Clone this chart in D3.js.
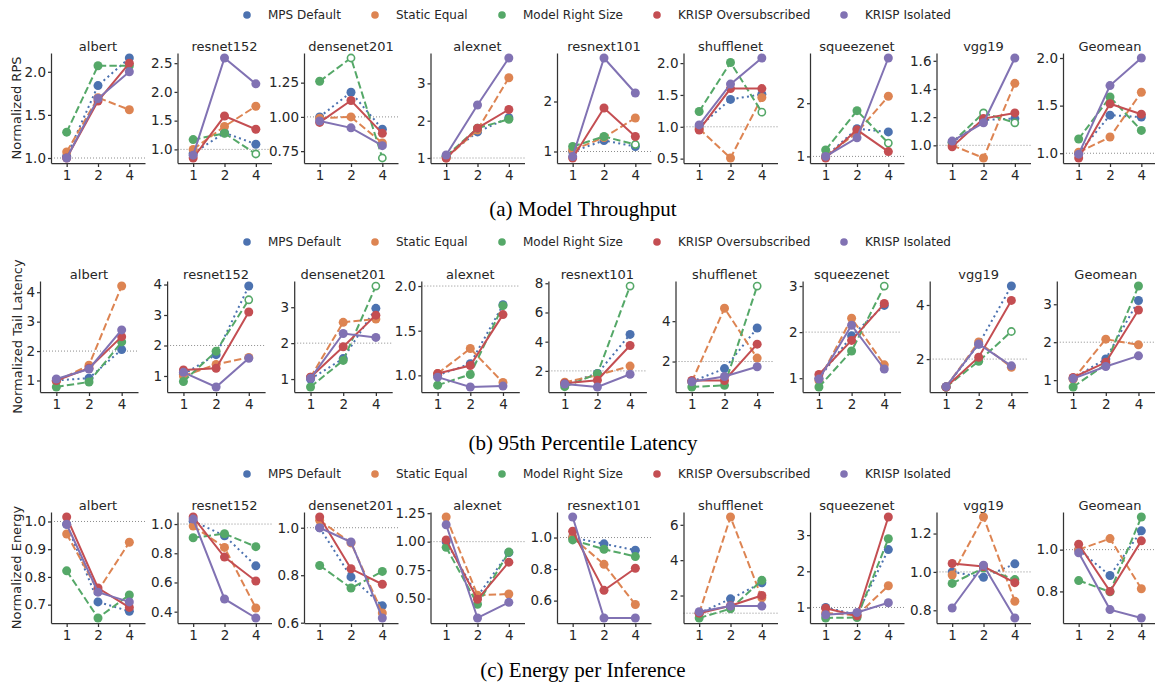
<!DOCTYPE html>
<html><head><meta charset="utf-8">
<script src="https://cdn.jsdelivr.net/npm/d3@7"></script>
<style>body{margin:0;background:#fff}svg{display:block}</style>
</head><body><svg id="c" width="1155" height="685"></svg>
<script>
// ---------- data ----------
const models = ["albert","resnet152","densenet201","alexnet","resnext101","shufflenet","squeezenet","vgg19","Geomean"];
const xLabels = ["1","2","4"];
const seriesNames = ["MPS Default","Static Equal","Model Right Size","KRISP Oversubscribed","KRISP Isolated"];

// (a) Normalized RPS, one [x=1, x=2, x=4] triple per model
const rpsMPS    = [[1.02,1.84,2.16],[0.93,1.29,1.09],[1.00,1.18,0.91],[1.05,1.70,2.08],[1.00,1.22,1.10],[1.00,1.43,1.51],[1.00,1.52,1.46],[1.02,1.18,1.19],[1.00,1.40,1.38]];
const rpsStatic = [[1.07,1.70,1.56],[1.00,1.40,1.75],[0.99,1.00,0.81],[1.00,1.75,3.15],[1.03,1.28,1.67],[0.97,0.51,1.46],[1.00,1.45,2.13],[1.00,0.91,1.44],[1.01,1.17,1.64]];
const rpsRight  = [[1.30,2.07,2.07],[1.17,1.28,0.92],[1.26,1.43,0.70],[1.05,1.80,2.04],[1.10,1.30,1.14],[1.24,2.01,1.23],[1.12,1.86,1.25],[1.02,1.23,1.16],[1.15,1.59,1.24]];
const rpsOver   = [[1.00,1.66,2.10],[0.85,1.58,1.35],[0.96,1.12,0.88],[1.00,1.80,2.30],[0.87,1.87,1.30],[0.95,1.60,1.60],[0.97,1.50,1.09],[0.99,1.19,1.23],[0.95,1.52,1.41]];
const rpsIso    = [[1.00,1.69,2.00],[0.90,2.59,2.14],[0.97,0.92,0.79],[1.08,2.42,3.68],[0.90,2.87,2.17],[1.03,1.67,2.08],[1.00,1.35,2.85],[1.03,1.16,1.62],[0.99,1.71,2.00]];
const rpsHollow = [[],[2],[1,2],[],[2],[2],[2],[1,2],[]];
const rpsTicks  = [["1.0","1.5","2.0"],["1.0","1.5","2.0","2.5"],["0.75","1.00","1.25"],["1","2","3"],["1","2"],["0.5","1.0","1.5","2.0"],["1","2"],["1.0","1.2","1.4","1.6"],["1.0","1.5","2.0"]];

// (b) Normalized tail latency
const latMPS    = [[1.00,1.08,2.05],[1.05,1.70,3.95],[1.00,1.57,2.97],[1.00,1.13,1.79],[1.10,1.82,4.50],[1.00,1.65,3.66],[1.00,1.92,2.58],[0.97,2.55,4.70],[1.05,1.56,3.10]];
const latStatic = [[0.97,1.52,4.21],[1.00,1.38,1.61],[1.05,2.58,2.67],[1.02,1.30,0.92],[1.22,1.70,2.33],[1.00,4.64,2.17],[0.95,2.30,1.29],[0.97,2.63,1.70],[1.02,2.08,1.93]];
const latRight  = [[0.78,0.95,2.31],[0.82,1.81,3.50],[0.78,1.52,3.59],[0.89,1.01,1.78],[0.92,1.80,7.81],[0.74,0.82,5.74],[0.81,1.59,3.00],[0.97,1.92,3.02],[0.82,1.42,3.48]];
const latOver   = [[1.00,1.42,2.49],[1.20,1.25,3.10],[1.05,1.90,2.78],[1.02,1.11,1.68],[1.15,1.36,3.74],[1.06,1.06,2.86],[1.08,1.82,2.62],[0.97,2.07,4.17],[1.07,1.47,2.85]];
const latIso    = [[1.05,1.39,2.72],[1.12,0.64,1.58],[1.02,2.27,2.16],[0.98,0.87,0.88],[1.10,0.90,1.77],[1.00,1.26,1.74],[0.98,2.15,1.20],[0.98,2.56,1.75],[1.04,1.36,1.64]];
const latHollow = [[],[2],[2],[],[2],[2],[2],[2],[]];
const latTicks  = [["1","2","3","4"],["1","2","3","4"],["1","2","3"],["1.0","1.5","2.0"],["2","4","6","8"],["2","4"],["1","2","3"],["2","4"],["1","2","3"]];

// (c) Normalized energy per inference
const enMPS    = [[0.99,0.71,0.676],[1.02,0.92,0.714],[1.00,0.793,0.671],[1.00,0.52,0.905],[1.00,0.96,0.92],[1.00,1.81,2.72],[1.00,0.80,2.60],[1.00,0.972,1.042],[1.00,0.876,1.09]];
const enStatic = [[0.955,0.75,0.925],[0.986,0.84,0.425],[1.031,0.936,0.641],[1.216,0.53,0.54],[1.00,0.83,0.575],[1.00,6.44,1.87],[0.85,0.78,1.60],[0.984,1.286,0.847],[1.00,1.053,0.813]];
const enRight  = [[0.822,0.652,0.735],[0.906,0.934,0.845],[0.841,0.746,0.816],[0.95,0.45,0.908],[0.985,0.926,0.88],[0.73,1.25,2.86],[0.71,0.72,2.90],[0.94,1.02,0.96],[0.852,0.798,1.156]];
const enOver   = [[1.016,0.76,0.69],[1.048,0.774,0.61],[1.045,0.827,0.762],[1.015,0.494,0.82],[1.04,0.665,0.805],[1.00,1.42,2.00],[0.98,0.77,3.50],[1.044,1.028,0.944],[1.026,0.80,1.042]];
const enIso    = [[0.99,0.745,0.71],[1.034,0.487,0.357],[1.00,0.94,0.62],[1.148,0.33,0.467],[1.13,0.49,0.49],[1.08,1.40,1.40],[0.80,0.86,1.13],[0.812,1.035,0.76],[0.985,0.713,0.673]];
const enHollow = [[],[],[],[],[],[],[],[],[]];
const enTicks  = [["0.7","0.8","0.9","1.0"],["0.4","0.6","0.8","1.0"],["0.6","0.8","1.0"],["0.50","0.75","1.00","1.25"],["0.6","0.8","1.0"],["2","4","6"],["1","2","3"],["0.8","1.0","1.2"],["0.8","1.0"]];

const yLabels  = ["Normalized RPS","Normalized Tail Latency","Normalized Energy"];
const captions = ["(a) Model Throughput","(b) 95th Percentile Latency","(c) Energy per Inference"];
const refValues = [1, 2, 1];

// ---------- style / layout ----------
const colors = ["#4C72B0","#DD8452","#55A868","#C44E52","#8172B3"];
const dashes = ["2,3.3","7.4,3.2","7.4,3.2",null,null];
const hollowSeries = 2;
const rowsLayout = [
  {left0:51, step:126.5, width:94, top:53,  bottom:163, legendY:15,  ylabX:16, capY:216},
  {left0:40, step:127.1, width:98, top:281, bottom:392, legendY:242, ylabX:17, capY:450},
  {left0:51, step:126.5, width:94, top:512, bottom:623, legendY:474, ylabX:16, capY:677}
];
const legendX = [247,375,502,657,844];
const FONT = "DejaVu Sans";
const TXT = "#262626";

const metrics = [
  {series:[rpsMPS,rpsStatic,rpsRight,rpsOver,rpsIso], hollow:rpsHollow, ticks:rpsTicks},
  {series:[latMPS,latStatic,latRight,latOver,latIso], hollow:latHollow, ticks:latTicks},
  {series:[enMPS,enStatic,enRight,enOver,enIso], hollow:enHollow, ticks:enTicks}
];

const svg = d3.select("#c");
svg.append("rect").attr("width",1155).attr("height",685).attr("fill","#fff");

metrics.forEach((m, r) => {
  const L = rowsLayout[r];
  const h = L.bottom - L.top;
  const ref = refValues[r];

  // legend
  const lg = svg.append("g");
  seriesNames.forEach((name, s) => {
    lg.append("circle").attr("cx", legendX[s]).attr("cy", L.legendY).attr("r", 3.8).attr("fill", colors[s]);
    lg.append("text").attr("x", legendX[s] + 21).attr("y", L.legendY).attr("dy","0.35em")
      .attr("font-family", FONT).attr("font-size", 12).attr("fill", TXT).text(name);
  });

  // y label
  svg.append("text")
    .attr("transform", `translate(${L.ylabX},${(L.top + L.bottom) / 2}) rotate(-90)`)
    .attr("text-anchor","middle").attr("dy","0.35em")
    .attr("font-family", FONT).attr("font-size", 13).attr("fill", TXT).text(yLabels[r]);

  // caption
  svg.append("text").attr("x", 583).attr("y", L.capY).attr("text-anchor","middle")
    .attr("font-family","Liberation Serif, Times New Roman, serif").attr("font-size", 21)
    .attr("fill","#000").text(captions[r]);

  models.forEach((model, j) => {
    const g = svg.append("g").attr("transform", `translate(${L.left0 + j * L.step},${L.top})`);
    const x = d3.scalePoint().domain(xLabels).range([0, L.width]).padding(0.5);
    const all = m.series.flatMap(s => s[j]).concat([ref]);
    const ext = d3.extent(all);
    const pad = (ext[1] - ext[0]) * 0.05;
    const y = d3.scaleLinear().domain([ext[0] - pad, ext[1] + pad]).range([h, 0]);

    // reference line
    g.append("line").attr("x1", 0).attr("x2", L.width).attr("y1", y(ref)).attr("y2", y(ref))
      .attr("stroke","#8c8c8c").attr("stroke-width",1).attr("stroke-dasharray","1,2");

    const tickStr = m.ticks[j];
    const yAxis = d3.axisLeft(y).tickValues(tickStr.map(Number))
      .tickFormat((d, i) => tickStr[i]).tickSize(3).tickPadding(2).tickSizeOuter(0);
    const xAxis = d3.axisBottom(x).tickSize(4).tickPadding(3).tickSizeOuter(0);
    const ya = g.append("g").call(yAxis);
    const xa = g.append("g").attr("transform", `translate(0,${h})`).call(xAxis);
    [ya, xa].forEach(a => {
      a.selectAll("path.domain").attr("stroke","#333").attr("stroke-width",1.25);
      a.selectAll(".tick line").attr("stroke","#333").attr("stroke-width",1.25);
      a.selectAll("text").attr("font-family", FONT).attr("font-size", 13.5).attr("fill", TXT);
    });

    // title
    g.append("text").attr("x", L.width / 2).attr("y", -2.5).attr("text-anchor","middle")
      .attr("font-family", FONT).attr("font-size", 13).attr("fill", TXT).text(model);

    // series
    const line = d3.line().x((d, i) => x(xLabels[i])).y(d => y(d));
    m.series.forEach((ser, s) => {
      const vals = ser[j];
      const p = g.append("path").attr("d", line(vals)).attr("fill","none")
        .attr("stroke", colors[s]).attr("stroke-width", 2);
      if (dashes[s]) p.attr("stroke-dasharray", dashes[s]);
      vals.forEach((v, i) => {
        const hollow = s === hollowSeries && m.hollow[j].includes(i);
        g.append("circle").attr("cx", x(xLabels[i])).attr("cy", y(v))
          .attr("r", hollow ? 3.6 : 4.5)
          .attr("fill", hollow ? "#fff" : colors[s])
          .attr("stroke", hollow ? colors[s] : "none")
          .attr("stroke-width", hollow ? 1.6 : 0);
      });
    });
  });
});
</script></body></html>
